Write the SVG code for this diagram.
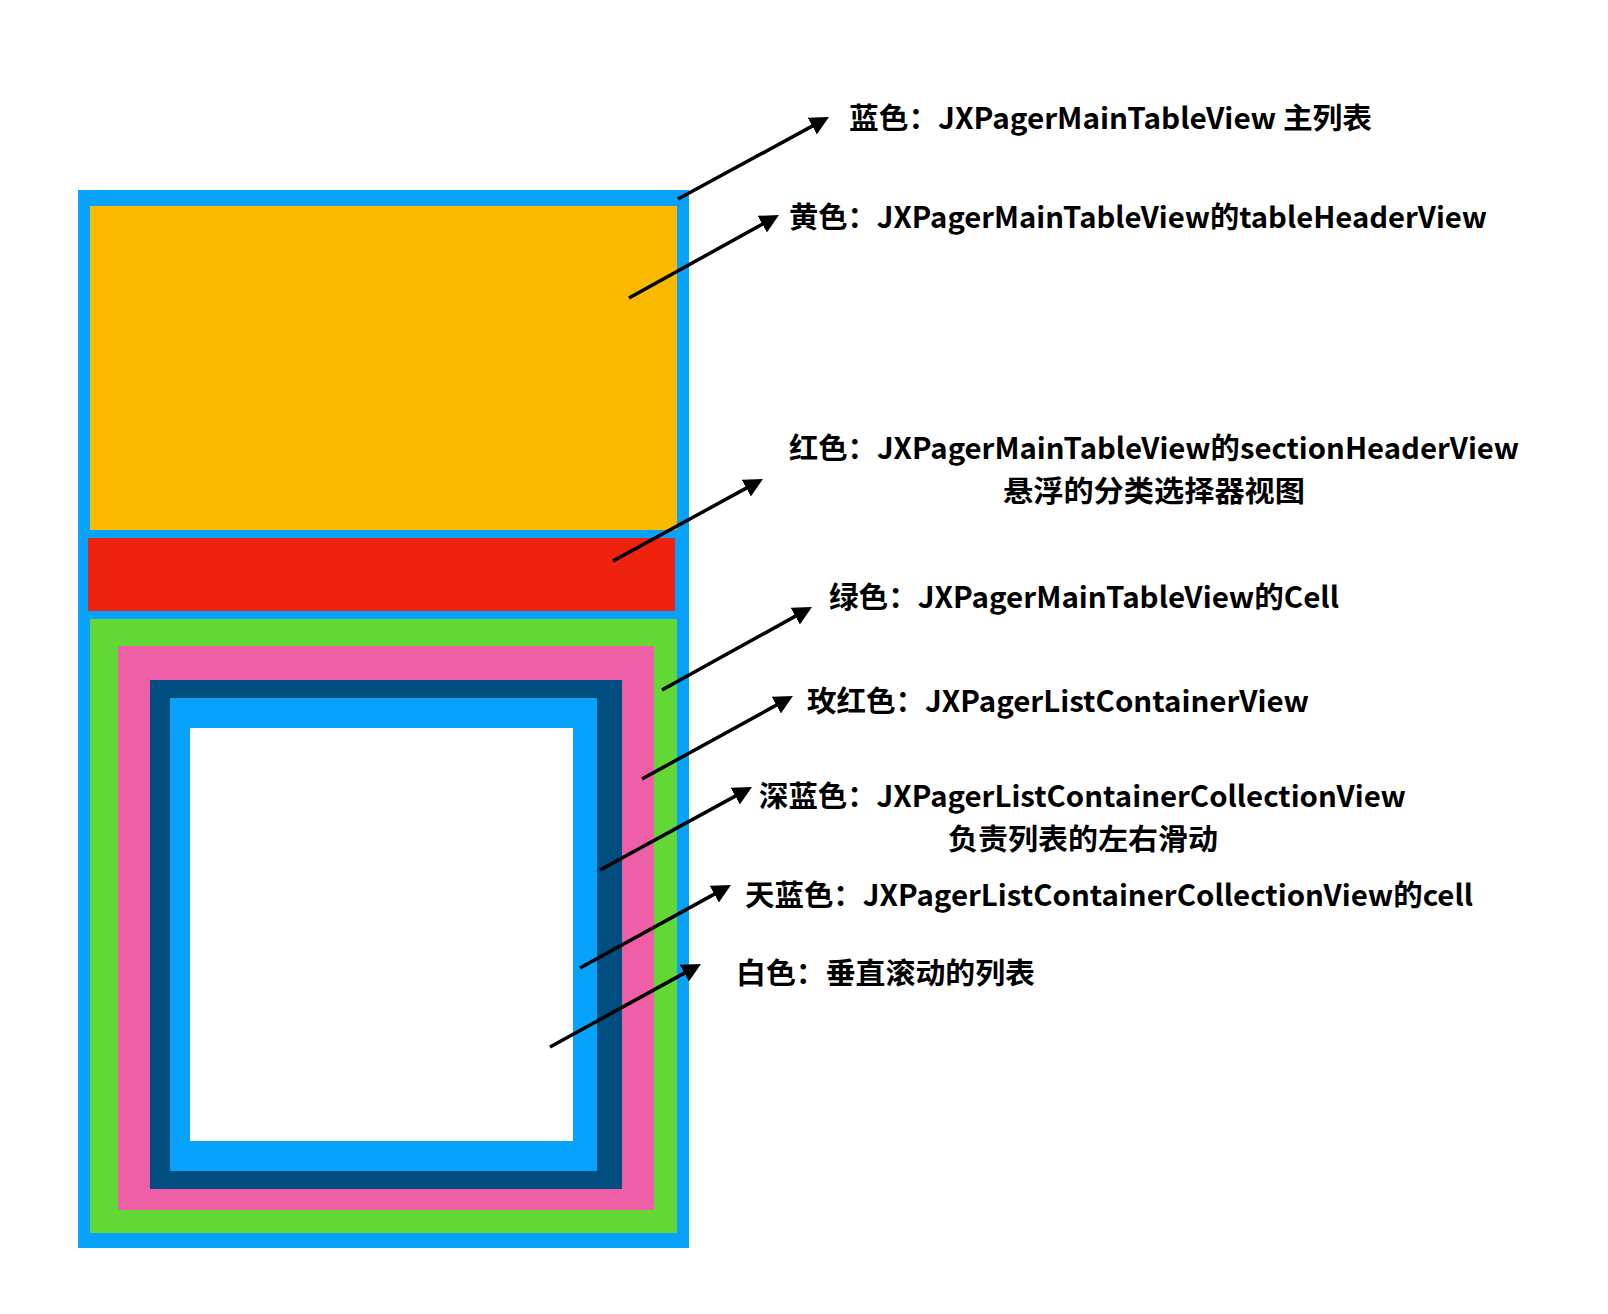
<svg xmlns="http://www.w3.org/2000/svg" width="1608" height="1314" viewBox="0 0 1608 1314">
<defs>
<marker id="ah" markerUnits="userSpaceOnUse" markerWidth="19" markerHeight="19" refX="13" refY="9.5" orient="auto" viewBox="0 0 19 19">
<path d="M0,0 L19,9.5 L0,19 z" fill="#000"/>
</marker>
<style>
.lbl{font-family:"Noto Sans CJK SC","Noto Sans",sans-serif;font-weight:bold;font-size:29px;fill:#000}
.arr{stroke:#000;stroke-width:3.5;fill:none;marker-end:url(#ah)}
</style>
</defs>
<rect width="1608" height="1314" fill="#fff"/>
<g id="mainTable"><rect x="78" y="190" width="611" height="1058" fill="#07A2FC"/></g>
<g id="tableHeader"><rect x="90" y="206" width="587" height="324" fill="#F9BA00"/></g>
<g id="sectionHeader"><rect x="88" y="538" width="587" height="73" fill="#EE220F"/></g>
<g id="mainCell"><rect x="90" y="619" width="587" height="614" fill="#61D836"/></g>
<g id="listContainer"><rect x="118" y="646" width="536" height="564" fill="#EF5FA7"/></g>
<g id="collectionView"><rect x="150" y="680" width="472" height="509" fill="#004D80"/></g>
<g id="collectionCell"><rect x="170" y="698" width="427" height="473" fill="#07A2FC"/></g>
<g id="verticalList"><rect x="190" y="728" width="383" height="413" fill="#FFFFFF"/></g>
<g id="connectors">
<line class="arr" x1="678" y1="199" x2="823.7" y2="119.9"/>
<line class="arr" x1="629" y1="298" x2="773.7" y2="217.9"/>
<line class="arr" x1="613" y1="561" x2="757.7" y2="481.9"/>
<line class="arr" x1="662" y1="690" x2="806.7" y2="609.9"/>
<line class="arr" x1="642" y1="779" x2="787.7" y2="698.9"/>
<line class="arr" x1="600" y1="870" x2="746.7" y2="789.9"/>
<line class="arr" x1="580" y1="968" x2="725.7" y2="887.9"/>
<line class="arr" x1="550" y1="1047" x2="695.7" y2="966.9"/>
</g>
<g id="labels">
<text class="lbl" x="849" y="129" textLength="523" lengthAdjust="spacingAndGlyphs">蓝色：JXPagerMainTableView 主列表</text>
<text class="lbl" x="789" y="228" textLength="698" lengthAdjust="spacingAndGlyphs">黄色：JXPagerMainTableView的tableHeaderView</text>
<text class="lbl" x="789" y="459" textLength="730" lengthAdjust="spacingAndGlyphs">红色：JXPagerMainTableView的sectionHeaderView</text>
<text class="lbl" x="1003" y="502" textLength="302" lengthAdjust="spacingAndGlyphs">悬浮的分类选择器视图</text>
<text class="lbl" x="829" y="608" textLength="510" lengthAdjust="spacingAndGlyphs">绿色：JXPagerMainTableView的Cell</text>
<text class="lbl" x="807" y="712" textLength="502" lengthAdjust="spacingAndGlyphs">玫红色：JXPagerListContainerView</text>
<text class="lbl" x="759" y="807" textLength="647" lengthAdjust="spacingAndGlyphs">深蓝色：JXPagerListContainerCollectionView</text>
<text class="lbl" x="948" y="850" textLength="270" lengthAdjust="spacingAndGlyphs">负责列表的左右滑动</text>
<text class="lbl" x="745" y="906" textLength="728" lengthAdjust="spacingAndGlyphs">天蓝色：JXPagerListContainerCollectionView的cell</text>
<text class="lbl" x="736" y="984" textLength="299" lengthAdjust="spacingAndGlyphs">白色：垂直滚动的列表</text>
</g>
</svg>
